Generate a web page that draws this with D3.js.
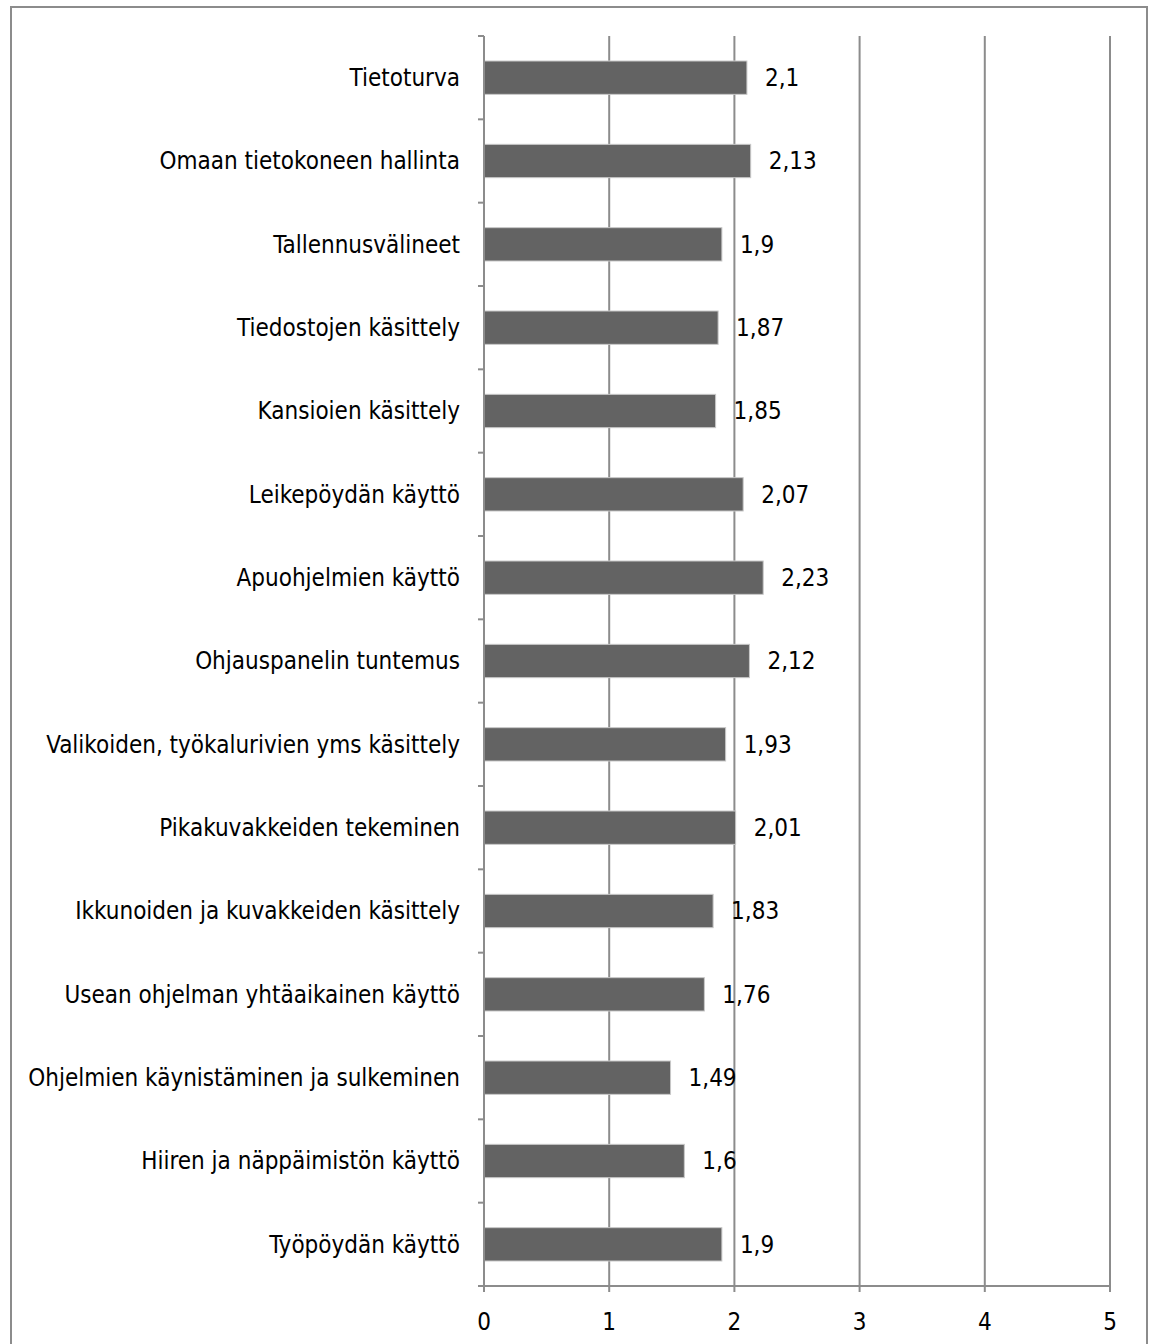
<!DOCTYPE html>
<html>
<head>
<meta charset="utf-8">
<script src="https://cdn.jsdelivr.net/npm/d3@7"></script>
<style>
  html, body { margin: 0; padding: 0; background: #fff; }
  svg text { font-family: "Liberation Sans Narrow", "DejaVu Sans Condensed", "Arial Narrow", sans-serif; fill: #000; }
</style>
</head>
<body>
<svg id="chart" width="1149" height="1344"></svg>
<script>
const categories = [
  "Tietoturva",
  "Omaan tietokoneen hallinta",
  "Tallennusvälineet",
  "Tiedostojen käsittely",
  "Kansioien käsittely",
  "Leikepöydän käyttö",
  "Apuohjelmien käyttö",
  "Ohjauspanelin tuntemus",
  "Valikoiden, työkalurivien yms käsittely",
  "Pikakuvakkeiden tekeminen",
  "Ikkunoiden ja kuvakkeiden käsittely",
  "Usean ohjelman yhtäaikainen käyttö",
  "Ohjelmien käynistäminen ja sulkeminen",
  "Hiiren ja näppäimistön käyttö",
  "Työpöydän käyttö"
];
const values = [2.1, 2.13, 1.9, 1.87, 1.85, 2.07, 2.23, 2.12, 1.93, 2.01, 1.83, 1.76, 1.49, 1.6, 1.9];
const valueLabels = ["2,1", "2,13", "1,9", "1,87", "1,85", "2,07", "2,23", "2,12", "1,93", "2,01", "1,83", "1,76", "1,49", "1,6", "1,9"];
const xTicks = [0, 1, 2, 3, 4, 5];

(function () {
const svg = d3.select("#chart");
const fs = 24;

svg.append("rect")
  .attr("x", 11).attr("y", 7)
  .attr("width", 1136).attr("height", 1400)
  .attr("fill", "none").attr("stroke", "#8c8c8c").attr("stroke-width", 2);

const mLeft = 484, mRight = 1110, mTop = 36, mBottom = 1286;

const x = d3.scaleLinear().domain([0, 5]).range([mLeft, mRight]);
const y = d3.scaleBand().domain(categories).range([mTop, mBottom]).paddingInner(0.6).paddingOuter(0.3);
const yBand = d3.scaleBand().domain(categories).range([mTop, mBottom]).padding(0);

svg.append("g").selectAll("line")
  .data(xTicks.filter(d => d > 0))
  .join("line")
  .attr("x1", d => x(d)).attr("x2", d => x(d))
  .attr("y1", mTop).attr("y2", mBottom)
  .attr("stroke", "#8c8c8c").attr("stroke-width", 2);

svg.append("g").selectAll("rect")
  .data(categories)
  .join("rect")
  .attr("x", x(0))
  .attr("y", d => y(d))
  .attr("width", (d, i) => x(values[i]) - x(0))
  .attr("height", y.bandwidth())
  .attr("fill", "#636363")
  .attr("stroke", "#c8c8c8").attr("stroke-width", 1);

svg.append("g").selectAll("text")
  .data(categories)
  .join("text")
  .attr("x", (d, i) => x(values[i]) + 18)
  .attr("y", d => y(d) + y.bandwidth() / 2)
  .attr("dy", "0.35em")
  .attr("font-size", fs)
  .text((d, i) => valueLabels[i]);

const yAxisG = svg.append("g");
yAxisG.append("line")
  .attr("x1", mLeft).attr("x2", mLeft)
  .attr("y1", mTop).attr("y2", mBottom)
  .attr("stroke", "#8c8c8c").attr("stroke-width", 2);
const boundaries = categories.map(c => yBand(c)).concat([mBottom]);
yAxisG.selectAll("line.tick")
  .data(boundaries)
  .join("line").attr("class", "tick")
  .attr("x1", mLeft - 6).attr("x2", mLeft)
  .attr("y1", d => d).attr("y2", d => d)
  .attr("stroke", "#8c8c8c").attr("stroke-width", 2);
yAxisG.selectAll("text")
  .data(categories)
  .join("text")
  .attr("x", mLeft - 24)
  .attr("y", d => y(d) + y.bandwidth() / 2)
  .attr("dy", "0.35em")
  .attr("text-anchor", "end")
  .attr("font-size", fs)
  .text(d => d);

const xAxisG = svg.append("g");
xAxisG.append("line")
  .attr("x1", mLeft).attr("x2", mRight)
  .attr("y1", mBottom).attr("y2", mBottom)
  .attr("stroke", "#8c8c8c").attr("stroke-width", 2);
xAxisG.selectAll("line.tick")
  .data(xTicks)
  .join("line").attr("class", "tick")
  .attr("x1", d => x(d)).attr("x2", d => x(d))
  .attr("y1", mBottom).attr("y2", mBottom + 6)
  .attr("stroke", "#8c8c8c").attr("stroke-width", 2);
xAxisG.selectAll("text")
  .data(xTicks)
  .join("text")
  .attr("x", d => x(d))
  .attr("y", mBottom + 36)
  .attr("dy", "0.35em")
  .attr("text-anchor", "middle")
  .attr("font-size", fs)
  .text(d => d);
})();
</script>
</body>
</html>
